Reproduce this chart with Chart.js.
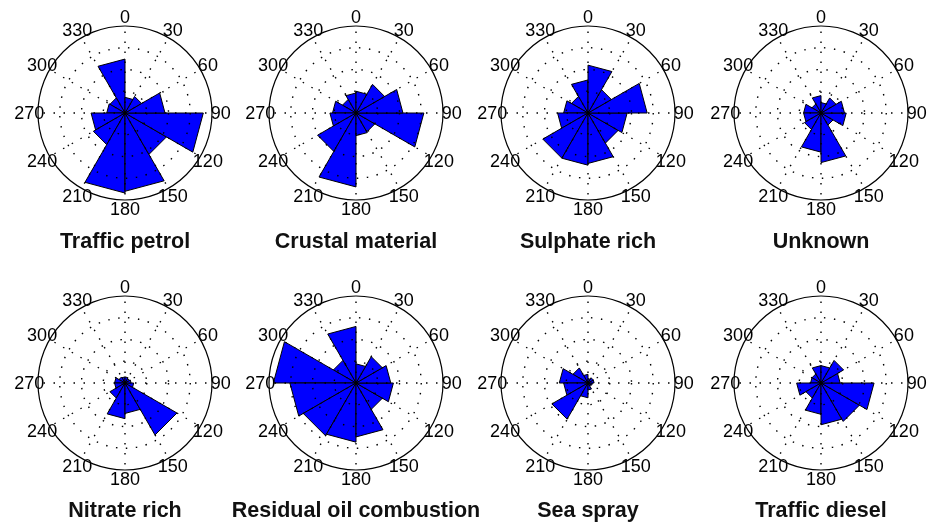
<!DOCTYPE html>
<html>
<head>
<meta charset="utf-8">
<script src="https://cdn.jsdelivr.net/npm/chart.js@4.4.1/dist/chart.umd.min.js"></script>
<style>
  html, body { margin: 0; padding: 0; background: #fff; }
  #wrap { position: relative; width: 928px; height: 524px; overflow: hidden; background: #fff; }
  .panel { position: absolute; width: 232px; height: 240px; }
  .title { position: absolute; width: 260px; text-align: center; font: bold 21.5px "Liberation Sans", Arial, Helvetica, sans-serif; color: #111; line-height: 24px; }
</style>
</head>
<body>
<div id="wrap"></div>
<script>
// Wind-direction bin edges (degrees, clockwise from north), 30-degree sectors
const directionLabels = ['0', '30', '60', '90', '120', '150', '180', '210', '240', '270', '300', '330'];
const panelTitles = ['Traffic petrol', 'Crustal material', 'Sulphate rich', 'Unknown',
                     'Nitrate rich', 'Residual oil combustion', 'Sea spray', 'Traffic diesel'];
// Relative contribution per sector (bins 0-30, 30-60, ..., 330-360), outer circle = 1
const trafficPetrol  = [0.18, 0.22, 0.46, 0.90, 0.55, 0.90, 0.92, 0.42, 0.39, 0.21, 0.20, 0.62];
const crustal        = [0.25, 0.38, 0.54, 0.78, 0.25, 0.26, 0.85, 0.51, 0.30, 0.27, 0.18, 0.23];
const sulphateRich   = [0.55, 0.31, 0.68, 0.45, 0.40, 0.58, 0.60, 0.60, 0.35, 0.28, 0.22, 0.38];
const unknown        = [0.12, 0.20, 0.27, 0.29, 0.16, 0.57, 0.45, 0.22, 0.20, 0.20, 0.12, 0.20];
const nitrateRich    = [0.07, 0.06, 0.07, 0.10, 0.69, 0.35, 0.41, 0.20, 0.12, 0.12, 0.08, 0.07];
const residualOil    = [0.22, 0.35, 0.40, 0.43, 0.35, 0.62, 0.68, 0.70, 0.76, 0.95, 0.30, 0.65];
const seaSpray       = [0.05, 0.07, 0.07, 0.05, 0.04, 0.08, 0.17, 0.48, 0.28, 0.33, 0.20, 0.10];
const trafficDiesel  = [0.20, 0.30, 0.22, 0.61, 0.51, 0.48, 0.36, 0.20, 0.28, 0.12, 0.12, 0.20];
const radialTicks    = [0.25, 0.5, 0.75, 1];

const seriesList = [trafficPetrol, crustal, sulphateRich, unknown, nitrateRich, residualOil, seaSpray, trafficDiesel];

// panel layout (centre of each polar plot, pixels)
const colCenters = [125, 356, 588, 821];
const rowCenters = [113, 383];
const titleY = [241, 510];
const R = 87;
const CW = 232, CH = 240;

const angleLabelPlugin = {
  id: 'angleLabels',
  afterDraw(chart) {
    const scale = chart.scales.r;
    const ctx = chart.ctx;
    ctx.save();
    ctx.font = '18px "Liberation Sans", Arial, Helvetica, sans-serif';
    ctx.fillStyle = '#000';
    ctx.textAlign = 'center';
    ctx.textBaseline = 'middle';
    directionLabels.forEach((lab, i) => {
      const p = scale.getPointPosition(i, scale.drawingArea * 1.1);
      ctx.fillText(lab, p.x, p.y + 1);
    });
    ctx.restore();
  }
};

// MATLAB-style rose: each sector is a triangle (centre, edge k, edge k+1)
function roseDatasets(values) {
  const n = directionLabels.length;
  return values.map((v, k) => ({
    data: directionLabels.map((_, j) => (j === k || j === (k + 1) % n) ? v : 0),
    fill: true,
    backgroundColor: '#0000ff',
    borderColor: '#000000',
    borderWidth: 1,
    pointRadius: 0,
    pointHitRadius: 0,
    tension: 0
  }));
}

const wrap = document.getElementById('wrap');
seriesList.forEach((values, k) => {
  const row = Math.floor(k / 4), col = k % 4;
  const cx = colCenters[col], cy = rowCenters[row];
  const div = document.createElement('div');
  div.className = 'panel';
  div.style.left = (cx - CW / 2) + 'px';
  div.style.top = (cy - 113) + 'px';
  const cv = document.createElement('canvas');
  cv.width = CW; cv.height = CH;
  div.appendChild(cv);
  wrap.appendChild(div);

  const t = document.createElement('div');
  t.className = 'title';
  t.textContent = panelTitles[k];
  t.style.left = (cx - 130) + 'px';
  t.style.top = (titleY[row] - 12) + 'px';
  wrap.appendChild(t);

  new Chart(cv, {
    type: 'radar',
    data: { labels: directionLabels, datasets: roseDatasets(values) },
    options: {
      responsive: false,
      animation: false,
      devicePixelRatio: 1,
      layout: { padding: { left: CW / 2 - R, right: CW / 2 - R, top: 113 - R, bottom: CH - 113 - R } },
      plugins: { legend: { display: false }, tooltip: { enabled: false }, title: { display: false } },
      elements: { line: { borderJoinStyle: 'miter' } },
      scales: {
        r: {
          min: 0,
          max: 1,
          startAngle: 0,
          ticks: { display: false, stepSize: 0.25 },
          afterBuildTicks: (s) => { s.ticks = [{ value: 0 }].concat(radialTicks.map(v => ({ value: v }))); },
          pointLabels: { display: false },
          angleLines: { display: true, color: '#000', lineWidth: 1.4, borderDash: [1.5, 8.5] },
          grid: { display: true, circular: true, color: '#000', lineWidth: (c) => (c.tick && c.tick.value >= 1) ? 1.2 : 1.4, z: 1 },
          border: { dash: (c) => (c.tick && c.tick.value >= 1) ? [] : [1.5, 8.5] }
        }
      }
    },
    plugins: [angleLabelPlugin]
  });
});
</script>
</body>
</html>
